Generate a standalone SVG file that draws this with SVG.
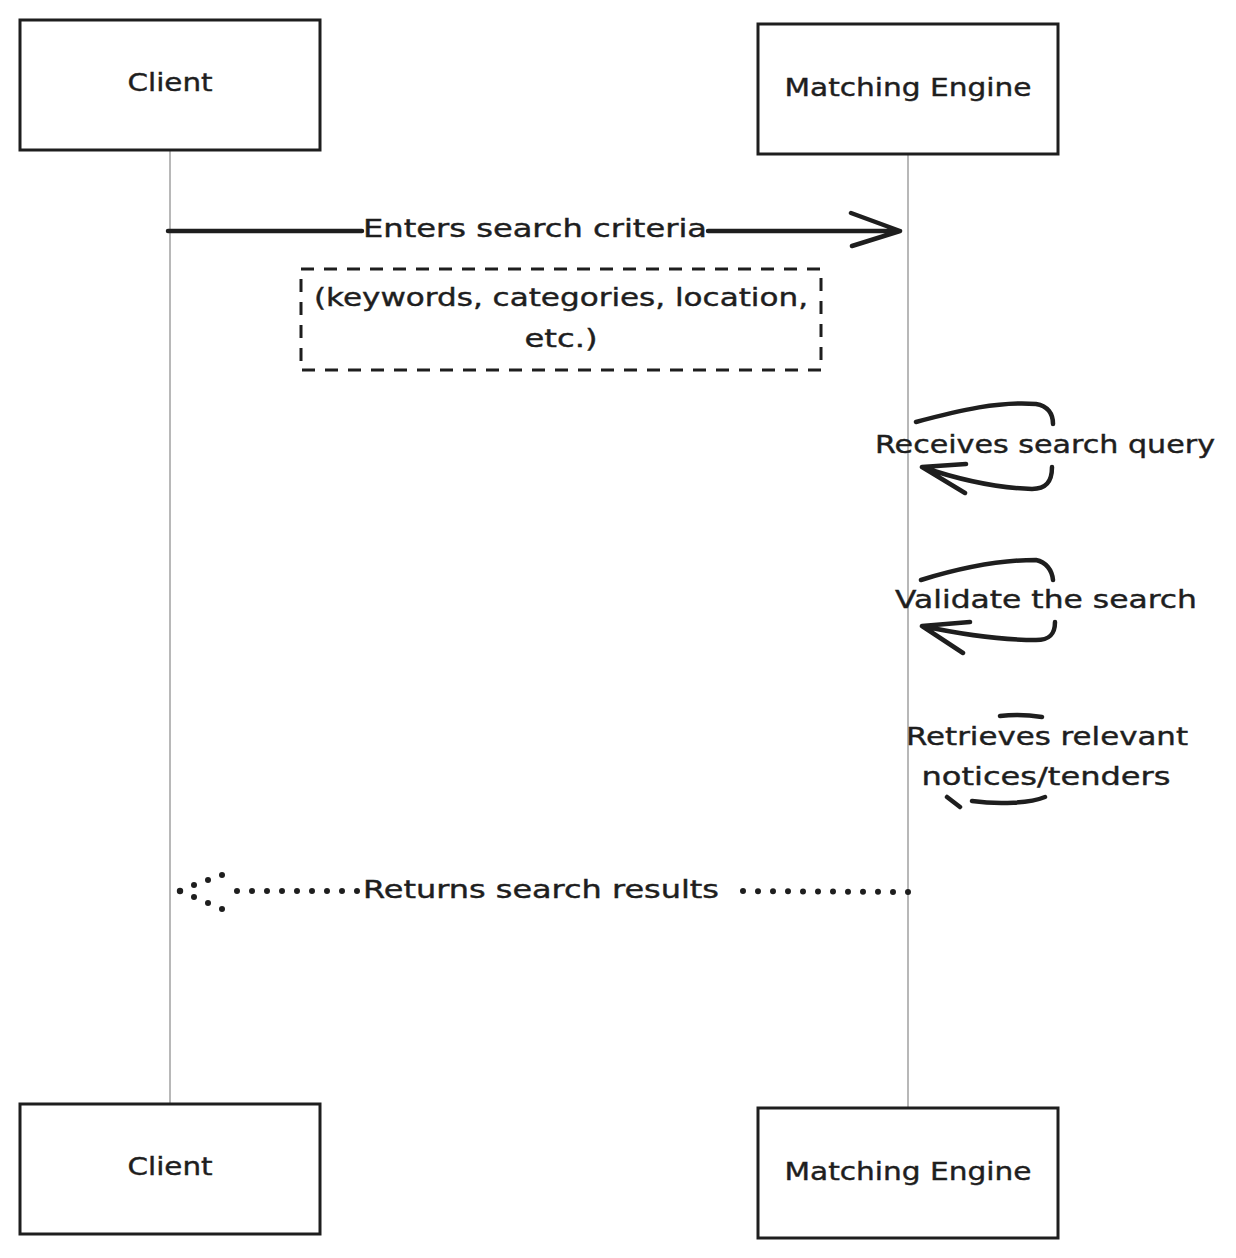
<svg xmlns="http://www.w3.org/2000/svg" width="1236" height="1258" viewBox="0 0 1236 1258">
<style>
.bg{fill:#ffffff}
.box{fill:#ffffff;stroke:#1e1e1e;stroke-width:3}
.life{stroke:#a0a0a0;stroke-width:1.5;fill:none}
.t{font-family:"DejaVu Sans","Liberation Sans",sans-serif;font-size:24px;fill:#1e1e1e;text-anchor:middle;stroke:#1e1e1e;stroke-width:0.4}
.solid{stroke:#1e1e1e;stroke-width:4.5;fill:none;stroke-linecap:round;stroke-linejoin:round}
.dots{stroke:#1e1e1e;stroke-width:6;fill:none;stroke-linecap:round;stroke-dasharray:0 15}
.dot{fill:#1e1e1e}
.note{fill:none;stroke:#1e1e1e;stroke-width:3;stroke-dasharray:13 10}
</style>
<rect class="bg" x="0" y="0" width="1236" height="1258"/>
<g id="lifelines">
<line class="life" x1="170" y1="150" x2="170" y2="1104"/>
<line class="life" x1="908" y1="154" x2="908" y2="1108"/>
</g>
<g id="client-top"><rect class="box" x="20" y="20" width="300" height="130"/><text class="t" x="170" y="91" textLength="85" lengthAdjust="spacingAndGlyphs">Client</text></g>
<g id="engine-top"><rect class="box" x="758" y="24" width="300" height="130"/><text class="t" x="908" y="96" textLength="247" lengthAdjust="spacingAndGlyphs">Matching Engine</text></g>
<g id="client-bottom"><rect class="box" x="20" y="1104" width="300" height="130"/><text class="t" x="170" y="1175" textLength="85" lengthAdjust="spacingAndGlyphs">Client</text></g>
<g id="engine-bottom"><rect class="box" x="758" y="1108" width="300" height="130"/><text class="t" x="908" y="1180" textLength="247" lengthAdjust="spacingAndGlyphs">Matching Engine</text></g>
<g id="note"><rect class="note" x="301" y="269" width="520" height="101"/><text class="t" x="561" y="306" textLength="494" lengthAdjust="spacingAndGlyphs">(keywords, categories, location,</text><text class="t" x="561" y="347" textLength="73" lengthAdjust="spacingAndGlyphs">etc.)</text></g>
<g id="connectors">
<path class="solid" d="M168 231 L362 231 M708 231 L900 231 M851 213 L900 231 L852 246"/>
<text class="t" x="535" y="237" textLength="344" lengthAdjust="spacingAndGlyphs">Enters search criteria</text>
<path class="solid" d="M916 422 C960 410 1000 401 1036 404 C1048 406 1053 414 1053 424"/>
<path class="solid" d="M1052 467 C1052 482 1046 489 1032 489 C1000 488 960 480 922 467 M965 493 L922 467 L966 464"/>
<text class="t" x="1045" y="453" textLength="340" lengthAdjust="spacingAndGlyphs">Receives search query</text>
<path class="solid" d="M921 580 C960 568 1000 560 1036 560 C1046 562 1052 570 1053 580"/>
<path class="solid" d="M1055 622 C1055 634 1050 640 1036 640 C1000 640 960 634 922 626 M963 653 L922 626 L970 622"/>
<text class="t" x="1046" y="608" textLength="302" lengthAdjust="spacingAndGlyphs">Validate the search</text>
<path class="solid" d="M1000 716 C1015 714 1030 715 1042 717"/>
<path class="solid" d="M1045 797 C1030 803 1000 805 972 801 M947 797 L960 807"/>
<text class="t" x="1047" y="745" textLength="282" lengthAdjust="spacingAndGlyphs">Retrieves relevant</text>
<text class="t" x="1046" y="785" textLength="249" lengthAdjust="spacingAndGlyphs">notices/tenders</text>
<path class="dots" d="M908 892 L734 891 M357 891 L222 891"/>
<g id="return-head">
<circle class="dot" cx="180" cy="891" r="3.2"/>
<circle class="dot" cx="194" cy="885" r="3"/>
<circle class="dot" cx="208" cy="880" r="3"/>
<circle class="dot" cx="222" cy="875" r="3"/>
<circle class="dot" cx="194" cy="897" r="3"/>
<circle class="dot" cx="208" cy="903" r="3"/>
<circle class="dot" cx="222" cy="909" r="3"/>
</g>
<text class="t" x="541" y="898" textLength="356" lengthAdjust="spacingAndGlyphs">Returns search results</text>
</g>
</svg>
